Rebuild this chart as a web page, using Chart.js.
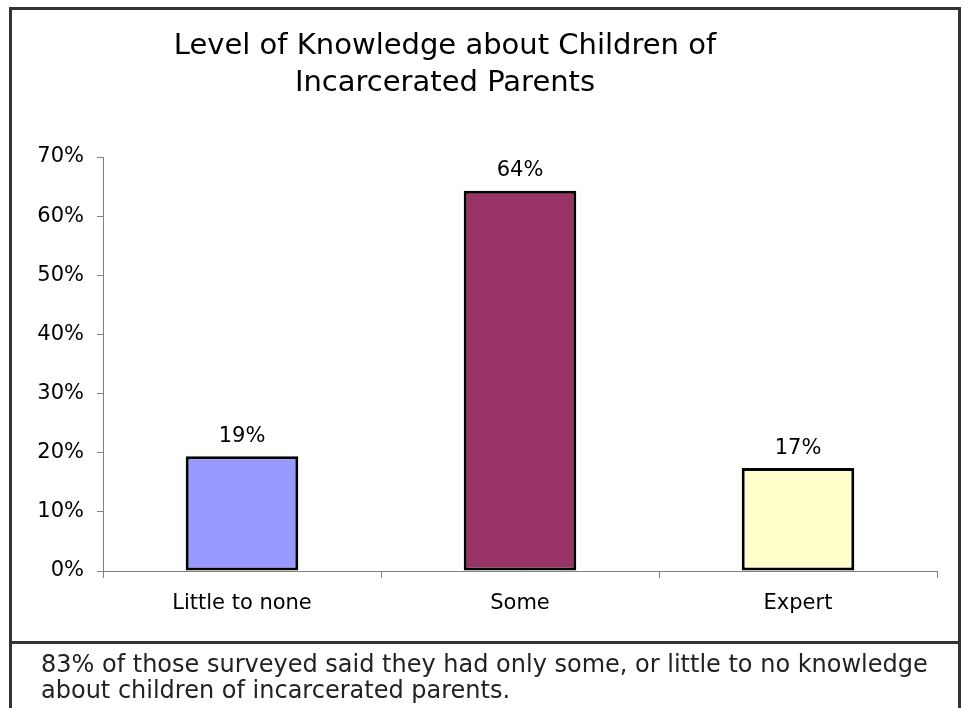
<!DOCTYPE html>
<html>
<head>
<meta charset="utf-8">
<script src="https://cdn.jsdelivr.net/npm/chart.js@4.4.0/dist/chart.umd.min.js"></script>
<style>
  body { margin: 0; background: #fff; font-family: "DejaVu Sans", Verdana, sans-serif; }
  #frame { position: absolute; left: 9px; top: 7px; width: 946px; height: 634px; border: 3px solid #333; border-bottom: none; }
  #title { position: absolute; left: 0; top: 16px; width: 866px; text-align: center; font-size: 29px; line-height: 37px; color: #000; }
  #wrap { position: absolute; left: 0; top: 0; width: 946px; height: 634px; }
  #caption { position: absolute; left: 9px; top: 641px; width: 952px; height: 80px; border: 3px solid #333; border-bottom: none; font-size: 24px; line-height: 26px; color: #222; padding: 7px 0 0 29px; box-sizing: border-box; white-space: nowrap; }
</style>
</head>
<body>
<div id="frame">
  <div id="wrap"><canvas id="chart"></canvas></div>
  <div id="title">Level of Knowledge about Children of<br>Incarcerated Parents</div>
</div>
<div id="caption">83% of those surveyed said they had only some, or little to no knowledge<br>about children of incarcerated parents.</div>
<script>
var categories = ['Little to none', 'Some', 'Expert'];
var values = [19.4, 64.3, 17.4];
var barColors = ['#9999FF', '#993366', '#FFFFCC'];
var yTicks = [0, 10, 20, 30, 40, 50, 60, 70];

// labels like 19% above each bar
var barLabels = {
  id: 'barLabels',
  afterDatasetsDraw: function (chart) {
    var ctx = chart.ctx;
    var meta = chart.getDatasetMeta(0);
    ctx.save();
    ctx.font = '21px "DejaVu Sans", Verdana, sans-serif';
    ctx.fillStyle = '#000';
    ctx.textAlign = 'center';
    ctx.textBaseline = 'middle';
    meta.data.forEach(function (bar, i) {
      ctx.fillText(Math.round(values[i]) + '%', bar.x, bar.y - 20);
    });
    ctx.restore();
  }
};

Chart.defaults.font.family = '"DejaVu Sans", Verdana, sans-serif';
Chart.defaults.color = '#000';

new Chart(document.getElementById('chart'), {
  type: 'bar',
  data: {
    labels: categories,
    datasets: [{
      data: values,
      backgroundColor: barColors,
      borderColor: '#000',
      borderWidth: 3,
      borderSkipped: false,
      barPercentage: 0.405,
      categoryPercentage: 1.0
    }]
  },
  options: {
    responsive: true,
    maintainAspectRatio: false,
    animation: false,
    layout: { padding: { top: 147, right: 21, left: 0, bottom: 0 } },
    plugins: { legend: { display: false }, tooltip: { enabled: false } },
    scales: {
      x: {
        grid: { drawOnChartArea: false, offset: true, tickLength: 7, color: '#808080' },
        border: { color: '#808080', width: 1 },
        ticks: { font: { size: 21 }, padding: 13, color: '#000' },
        afterFit: function (s) { s.height = 73; }
      },
      y: {
        min: 0,
        max: 70,
        afterBuildTicks: function (s) { s.ticks = yTicks.map(function (v) { return { value: v }; }); },
        grid: { drawOnChartArea: false, tickLength: 6, color: '#808080' },
        border: { color: '#808080', width: 1 },
        ticks: { font: { size: 21 }, padding: 13, color: '#000', callback: function (v) { return v + '%'; } },
        afterFit: function (s) { s.width = 91; }
      }
    }
  },
  plugins: [barLabels]
});
</script>
</body>
</html>
